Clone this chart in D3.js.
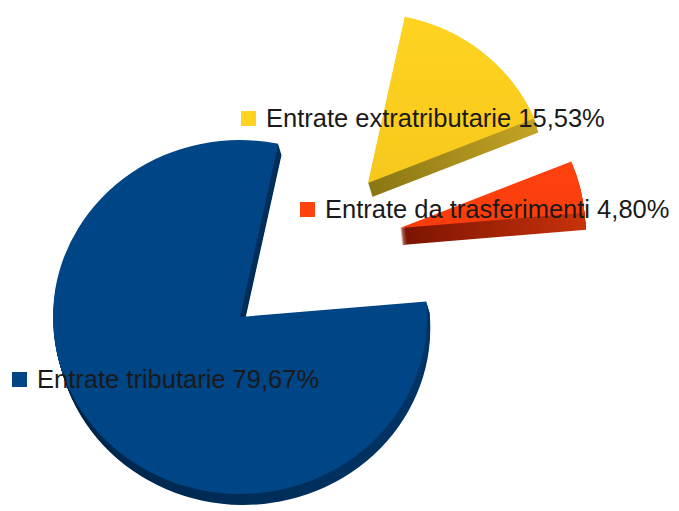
<!DOCTYPE html>
<html>
<head>
<meta charset="utf-8">
<script src="https://cdn.jsdelivr.net/npm/d3@7"></script>
<style>
  html, body { margin: 0; padding: 0; background: #ffffff; }
  svg { display: block; }
</style>
</head>
<body>
<svg id="chart" width="679" height="511"></svg>
<script>
// Revenue breakdown (percent of total)
const categories = ["Entrate tributarie", "Entrate extratributarie", "Entrate da trasferimenti"];
const percentages = [79.67, 15.53, 4.80];
const valueLabels = ["79,67%", "15,53%", "4,80%"];
const topColors = ["#004586", "#ffd320", "#ff420e"];
const topColorsLow = ["#004586", "#f6c81c", "#f83c0c"];
const sideColorsDark = ["#00254a", "#8a7614", "#7a1402"];
const sideColorsLight = ["#003466", "#c4a424", "#c8320a"];

// ---- layout ----
const W = 679, H = 511;
const cx = 240, cy = 317;          // pie centre
const rx = 187, ry = 177;          // projected radii of the tilted disc
const startAngle = 85 * Math.PI / 180;
// per-slice pull-out from the centre (px), radius factor, thickness and its slant
const pullOut = [[0, 0], [128, -134], [160, -89]];
const radiusFactor = [1, 0.96, 0.99];
const thickness = [11, 14, 17];
const slant = [0.3, 0.3, 0.1];
// data label anchors: [left of key square, text baseline]
const labelAnchor = [[12, 388], [241, 127], [300, 218]];

const svg = d3.select("#chart");
const defs = svg.append("defs");

const pie = d3.pie().sort(null).value(d => d)
  .startAngle(startAngle).endAngle(startAngle + 2 * Math.PI);
const slices = pie(percentages);

const arc = d3.arc().innerRadius(0);

// shading gradients for the walls and the top faces
slices.forEach((s, i) => {
  const g = defs.append("linearGradient")
    .attr("id", "side" + i)
    .attr("x1", "0%").attr("x2", "100%").attr("y1", "0%").attr("y2", "0%");
  g.append("stop").attr("offset", "0%").attr("stop-color", sideColorsDark[i]);
  g.append("stop").attr("offset", "100%").attr("stop-color", sideColorsLight[i]);
  const t = defs.append("linearGradient")
    .attr("id", "top" + i)
    .attr("x1", "0%").attr("x2", "0%").attr("y1", "0%").attr("y2", "100%");
  t.append("stop").attr("offset", "0%").attr("stop-color", topColors[i]);
  t.append("stop").attr("offset", "100%").attr("stop-color", topColorsLow[i]);
});

// draw back slices first (higher on screen = further away)
const order = slices.map((s, i) => i)
  .sort((a, b) => pullOut[a][1] - pullOut[b][1]);

order.forEach(i => {
  const s = slices[i];
  const r = rx * radiusFactor[i];
  const path = arc.outerRadius(r)(s);
  const ox = cx + pullOut[i][0], oy = cy + pullOut[i][1];
  const g = svg.append("g").attr("class", "slice");
  // extruded body
  for (let k = thickness[i]; k >= 1; k--) {
    g.append("path")
      .attr("d", path)
      .attr("transform", `translate(${ox + slant[i] * k},${oy + k}) scale(1,${ry / rx})`)
      .attr("fill", `url(#side${i})`);
  }
  // top face
  g.append("path")
    .attr("d", path)
    .attr("transform", `translate(${ox},${oy}) scale(1,${ry / rx})`)
    .attr("fill", `url(#top${i})`);
});

// data labels with key squares
const labels = svg.append("g").attr("class", "labels");
categories.forEach((c, i) => {
  const [lx, by] = labelAnchor[i];
  labels.append("rect")
    .attr("x", lx).attr("y", by - 16)
    .attr("width", 15).attr("height", 15)
    .attr("fill", topColors[i]);
  labels.append("text")
    .attr("x", lx + 25).attr("y", by)
    .attr("font-family", "'Liberation Sans', Arial, sans-serif")
    .attr("font-size", 25.5)
    .attr("fill", "#1a1a1a")
    .text(`${c} ${valueLabels[i]}`);
});
</script>
</body>
</html>
